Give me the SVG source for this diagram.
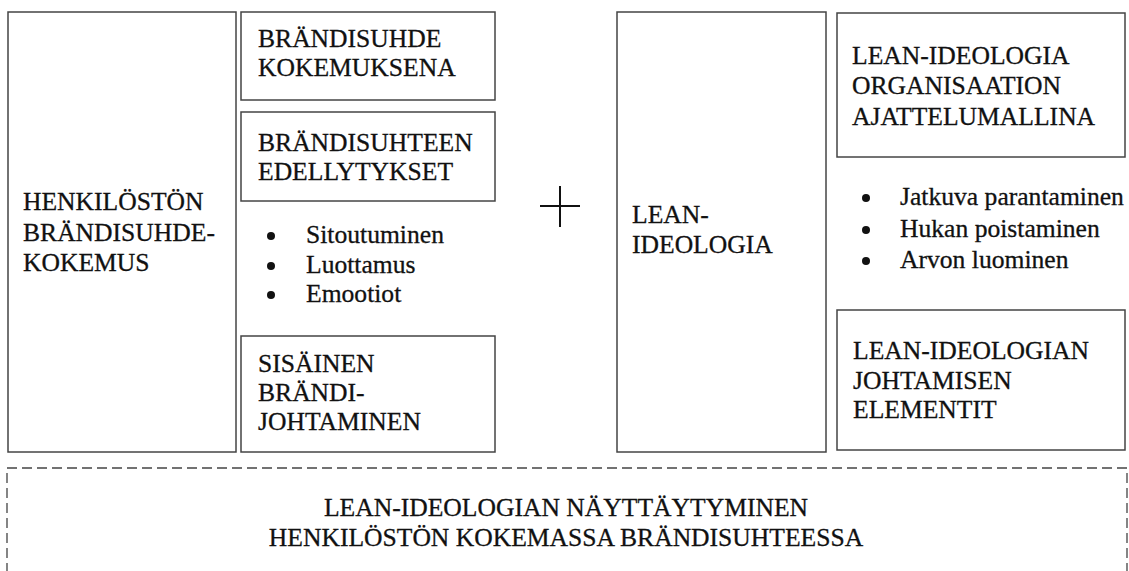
<svg xmlns="http://www.w3.org/2000/svg" width="1129" height="571" viewBox="0 0 1129 571">
<style>
.box{fill:#fff;stroke:#444;stroke-width:1.5}
.dash{fill:none;stroke:#444;stroke-width:1.3;stroke-dasharray:10 5}
text{font-family:"Liberation Serif","Times New Roman",serif;font-size:25.6px;fill:#111;stroke:#111;stroke-width:0.3}
.c{text-anchor:middle}
.dot{fill:#111}
</style>
<rect width="1129" height="571" fill="#fff"/>
<g id="henkiloston">
<rect class="box" x="8" y="12" width="228" height="440"/>
<text x="23" y="210">HENKILÖSTÖN</text>
<text x="23" y="241">BRÄNDISUHDE-</text>
<text x="23" y="271">KOKEMUS</text>
</g>
<g id="kokemuksena">
<rect class="box" x="241" y="12" width="254" height="88"/>
<text x="258" y="47">BRÄNDISUHDE</text>
<text x="258" y="76">KOKEMUKSENA</text>
</g>
<g id="edellytykset">
<rect class="box" x="241" y="112" width="254" height="89"/>
<text x="258" y="151">BRÄNDISUHTEEN</text>
<text x="258" y="180">EDELLYTYKSET</text>
</g>
<g id="edellytykset-list">
<circle class="dot" cx="271" cy="236" r="4"/>
<circle class="dot" cx="271" cy="266" r="4"/>
<circle class="dot" cx="271" cy="295" r="4"/>
<text x="306" y="243">Sitoutuminen</text>
<text x="306" y="273">Luottamus</text>
<text x="306" y="302">Emootiot</text>
</g>
<g id="sisainen">
<rect class="box" x="241" y="336" width="254" height="116"/>
<text x="258" y="372">SISÄINEN</text>
<text x="258" y="401">BRÄNDI-</text>
<text x="258" y="430">JOHTAMINEN</text>
</g>
<g id="plus">
<line x1="540" y1="206" x2="580" y2="206" stroke="#111" stroke-width="2"/>
<line x1="560" y1="186" x2="560" y2="227" stroke="#111" stroke-width="2"/>
</g>
<g id="lean">
<rect class="box" x="617" y="12" width="209" height="440"/>
<text x="632" y="223">LEAN-</text>
<text x="632" y="253">IDEOLOGIA</text>
</g>
<g id="ajattelumalli">
<rect class="box" x="837" y="13" width="288" height="144"/>
<text x="852" y="64">LEAN-IDEOLOGIA</text>
<text x="852" y="94">ORGANISAATION</text>
<text x="852" y="125">AJATTELUMALLINA</text>
</g>
<g id="lean-list">
<circle class="dot" cx="866" cy="198" r="4"/>
<circle class="dot" cx="866" cy="230" r="4"/>
<circle class="dot" cx="866" cy="261" r="4"/>
<text x="900" y="205">Jatkuva parantaminen</text>
<text x="900" y="237">Hukan poistaminen</text>
<text x="900" y="268">Arvon luominen</text>
</g>
<g id="elementit">
<rect class="box" x="837" y="310" width="288" height="140"/>
<text x="853" y="359">LEAN-IDEOLOGIAN</text>
<text x="853" y="389">JOHTAMISEN</text>
<text x="853" y="418">ELEMENTIT</text>
</g>
<g id="nayttaytyminen">
<rect class="dash" x="7" y="468" width="1120" height="140"/>
<text class="c" x="566" y="516">LEAN-IDEOLOGIAN NÄYTTÄYTYMINEN</text>
<text class="c" x="566" y="546">HENKILÖSTÖN KOKEMASSA BRÄNDISUHTEESSA</text>
</g>
<g id="connectors"/>
</svg>
